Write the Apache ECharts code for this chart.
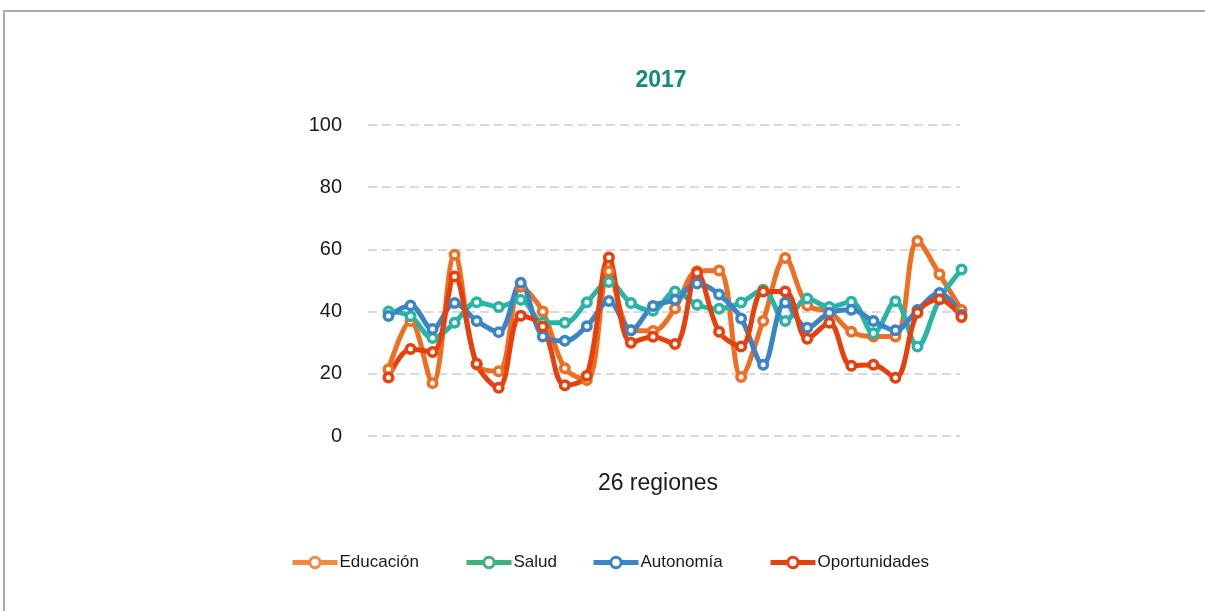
<!DOCTYPE html>
<html>
<head>
<meta charset="utf-8">
<script src="https://cdn.jsdelivr.net/npm/echarts@6/dist/echarts.min.js"></script>
<style>
  html, body { margin: 0; padding: 0; background: #ffffff; overflow: hidden; }
  #frame {
    position: absolute; left: 3px; top: 10px;
    width: 1400px; height: 800px;
    border: 2px solid #ababab;
  }
  #main { position: absolute; left: 0; top: 0; width: 1205px; height: 611px; }
</style>
</head>
<body>
<div id="frame"></div>
<div id="main"></div>
<script>
// posicion de cada region en el eje (27 puntos)
var regiones = [1, 2, 3, 4, 5, 6, 7, 8, 9, 10, 11, 12, 13, 14, 15, 16, 17, 18, 19, 20, 21, 22, 23, 24, 25, 26, 27];

var educacion = [21.5, 37, 17, 58.3, 23, 20.8, 48, 40, 21.8, 18, 53, 34, 33.8, 41, 53, 53.2, 19, 37, 57.2, 42, 40, 33.5, 32, 32, 62.7, 52, 40.5];
var salud = [40, 38.5, 31.5, 36.4, 43, 41.5, 43.8, 36.5, 36.4, 43, 49.5, 42.8, 40.3, 46.5, 42.2, 40.9, 42.9, 47, 37, 44.2, 41.5, 43.2, 33, 43.3, 28.8, 44, 53.5];
var autonomia = [38.6, 42, 34.4, 42.8, 37, 33.4, 49.3, 32, 30.6, 35.3, 43.4, 34, 41.8, 43.8, 49, 45.5, 37.8, 22.9, 42.9, 34.8, 39.6, 40.6, 37, 34, 40.5, 46, 39];
var oportunidades = [18.8, 28, 27, 51.3, 23.2, 15.5, 38.7, 35.2, 16.3, 19.4, 57.4, 30, 31.9, 29.6, 52.5, 33.5, 28.8, 46.5, 46.5, 31.3, 36.4, 22.6, 22.9, 18.7, 39.6, 44, 38.3];

var yTicks = [0, 20, 40, 60, 80, 100];

function pares(vals) {
  var out = [];
  for (var i = 0; i < vals.length; i++) {
    out.push([regiones[i], vals[i]]);
  }
  return out;
}

function serie(name, color, vals) {
  return {
    name: name,
    type: "line",
    smooth: 0.35,
    clip: false,
    data: pares(vals),
    symbol: "circle",
    symbolSize: 8.5,
    lineStyle: { color: color, width: 5 },
    itemStyle: { color: "#ffffff", borderColor: color, borderWidth: 3.5 },
    z: 2
  };
}

function leyenda(name, x, color) {
  return {
    data: [{ name: name, itemStyle: { color: "#ffffff", borderColor: color, borderWidth: 3 }, lineStyle: { color: color, width: 5 } }],
    left: x,
    top: 554,
    padding: 0,
    itemWidth: 45,
    itemHeight: 13,
    itemGap: 0,
    textStyle: { fontFamily: "Liberation Sans, Arial", fontSize: 17, color: "#1a1a1a", padding: [0, 0, 0, -3] }
  };
}

var chartDom = document.getElementById("main");
var myChart = echarts.init(chartDom);

var option = {
  animation: false,
  title: [
    {
      text: "2017",
      left: 656,
      top: 64,
      textAlign: "center",
      textStyle: { fontFamily: "Liberation Sans, Arial", fontSize: 23, fontWeight: "bold", color: "#128a82" }
    },
    {
      text: "26 regiones",
      left: 653,
      top: 467,
      textAlign: "center",
      textStyle: { fontFamily: "Liberation Sans, Arial", fontSize: 23, fontWeight: "normal", color: "#1a1a1a" }
    }
  ],
  legend: [
    leyenda("Educación", 290, "#f4893d"),
    leyenda("Salud", 464, "#3db27d"),
    leyenda("Autonomía", 591, "#3a85c8"),
    leyenda("Oportunidades", 768, "#e8400c")
  ],
  grid: { left: 368, right: 245, top: 125, bottom: 175 },
  xAxis: {
    type: "value",
    min: 0.07,
    max: 26.93,
    axisLine: { show: false },
    axisTick: { show: false },
    axisLabel: { show: false },
    splitLine: { show: false }
  },
  yAxis: {
    type: "value",
    min: yTicks[0],
    max: yTicks[yTicks.length - 1],
    interval: 20,
    axisLine: { show: false },
    axisTick: { show: false },
    axisLabel: { margin: 26, fontFamily: "Liberation Sans, Arial", fontSize: 20, color: "#1a1a1a" },
    splitLine: { lineStyle: { color: "#d9d9d9", width: 2, type: [9, 5] } }
  },
  series: [
    serie("Educación", "#ee6f22", educacion),
    serie("Salud", "#28b4a6", salud),
    serie("Autonomía", "#3a85c8", autonomia),
    serie("Oportunidades", "#e8400c", oportunidades)
  ]
};

option && myChart.setOption(option);
</script>
</body>
</html>
